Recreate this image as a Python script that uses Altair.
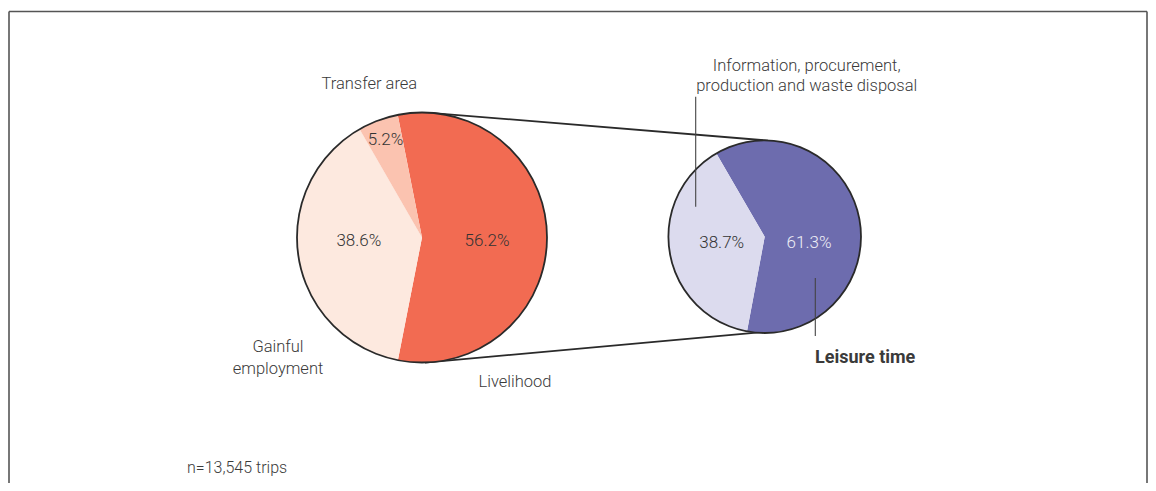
import math
import altair as alt
import pandas as pd

# ---------------- data ----------------
left_categories = ["Livelihood", "Gainful employment", "Transfer area"]
left_values = [56.2, 38.6, 5.2]
left_labels = ["56.2%", "38.6%", "5.2%"]

right_categories = ["Leisure time", "Information, procurement, production and waste disposal"]
right_values = [61.3, 38.7]
right_labels = ["61.3%", "38.7%"]

note_text = "n=13,545 trips"

# ---------------- style ----------------
FONT = "Roboto"
TXT = "#3a3a3a"
OUT = "#2a2a2a"
W, H = 1140, 475
OFF = 8  # page margin

def px(x):
    return x - OFF

cat_domain = left_categories + right_categories
cat_colors = ["#F26B52", "#FDE9DF", "#FBC3B0", "#6D6CAE", "#DCDBEE"]

left_df = pd.DataFrame({"category": left_categories, "value": left_values,
                        "label": left_labels, "idx": range(len(left_values))})
right_df = pd.DataFrame({"category": right_categories, "value": right_values,
                         "label": right_labels, "idx": range(len(right_values))})

anchor = pd.DataFrame({"a": [0]})


def pie(df, cx, cy, r, start_deg, labels_cfg):
    s = math.radians(start_deg)
    theta = alt.Theta("value:Q", stack=True,
                      scale=alt.Scale(domain=[0, 100], range=[s, s + 2 * math.pi]))
    color = alt.Color("category:N", legend=None,
                      scale=alt.Scale(domain=cat_domain, range=cat_colors))
    base = alt.Chart(df).encode(theta=theta, order=alt.Order("idx:Q"),
                                x=alt.value(px(cx)), y=alt.value(px(cy)))
    arcs = base.mark_arc(outerRadius=r, strokeWidth=0).encode(color=color)
    outline = alt.Chart(anchor).mark_arc(
        outerRadius=r, theta=0, theta2=2 * math.pi, fillOpacity=0,
        stroke=OUT, strokeWidth=1.8).encode(x=alt.value(px(cx)), y=alt.value(px(cy)))
    layers = [arcs]
    for cat, (rad, dy, col) in labels_cfg.items():
        layers.append(
            base.mark_text(radius=rad, dy=dy, font=FONT, fontSize=17, fontWeight=300,
                           color=col).encode(
                text=alt.condition(alt.datum.category == cat, "label:N", alt.value(""))
            )
        )
    layers.append(outline)
    return alt.layer(*layers)


left_pie = pie(left_df, 422, 237.5, 125, -11.2, {
    "Livelihood": (65, 4, "#333333"),
    "Gainful employment": (64, -7, "#333333"),
    "Transfer area": (104, 0, "#333333"),
})

right_pie = pie(right_df, 764.7, 236.7, 96.3, -30.1, {
    "Leisure time": (45, 13.7, "#EEEEF6"),
    "Information, procurement, production and waste disposal": (43.6, -1, "#333333"),
})


def seg(x1, y1, x2, y2, color=OUT, w=1.6):
    return alt.Chart(anchor).mark_rule(color=color, strokeWidth=w).encode(
        x=alt.value(px(x1)), y=alt.value(px(y1)), x2=alt.value(px(x2)), y2=alt.value(px(y2)))


def txt(t, x, y, align="center", size=16.5, weight=300, lh=21):
    return alt.Chart(anchor).mark_text(
        text=t, align=align, baseline="middle", font=FONT, fontSize=size,
        fontWeight=weight, color=TXT, lineHeight=lh).encode(
        x=alt.value(px(x)), y=alt.value(px(y)))


frame = [
    seg(9, 11.5, 1147, 11.5, "#555555", 1.6),
    seg(9, 11.5, 9, 495, "#555555", 1.6),
    seg(1147, 11.5, 1147, 495, "#555555", 1.6),
]

connectors = [
    seg(430, 112.8, 768, 140.6, OUT, 1.8),
    seg(425, 362.6, 762, 332.2, OUT, 1.8),
]

leaders = [
    seg(695.7, 96.7, 695.7, 206.7, "#444444", 1.1),
    seg(815.3, 278, 815.3, 336, "#444444", 1.1),
]

texts = [
    txt(left_categories[2], 369.3, 84),
    txt(left_categories[0], 515, 381.7),
    txt(["Gainful", "employment"], 278, 347, lh=21.5),
    txt(["Information, procurement,", "production and waste disposal"], 806.7, 66, lh=19.5),
    txt(right_categories[0], 815, 358, align="left", size=18, weight="bold"),
    txt(note_text, 187, 468.3, align="left", size=16),
]

chart = alt.layer(*frame, *connectors, left_pie, right_pie, *leaders, *texts).resolve_scale(
    theta="independent"
).properties(
    width=W, height=H, padding=0, autosize=alt.AutoSizeParams(type="none")
).configure_view(stroke=None)

chart.save("out.html", embed_options={"renderer": "svg", "actions": False})
